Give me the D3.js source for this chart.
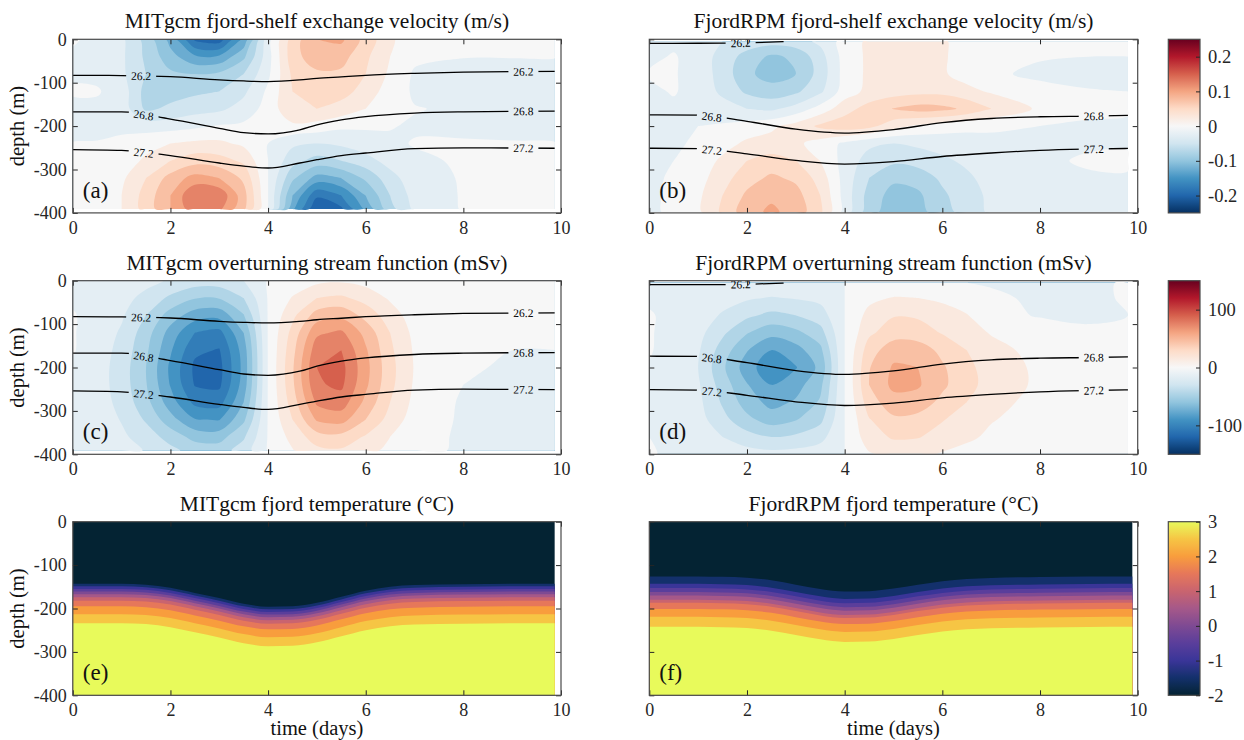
<!DOCTYPE html>
<html>
<head>
<meta charset="utf-8">
<script src="https://cdn.jsdelivr.net/npm/d3@7"></script>
<style>
  body { margin: 0; background: #fff; }
  text { font-family: "Liberation Serif", "DejaVu Serif", serif; }
</style>
</head>
<body>
<svg id="fig" width="1244" height="740"></svg>
<script>
// ---------- data ----------
// grid for the MITgcm fields (days, metres below surface)
const mitTimes = [0, 0.5, 1, 1.5, 2, 2.5, 3, 3.5, 4, 4.5, 5, 5.5, 6, 6.5, 7, 8, 9, 9.87];
const mitDepths = [0, 40, 80, 120, 160, 200, 240, 280, 320, 360, 391];
// grid for the FjordRPM fields
const fjordTimes = [0, 0.5, 1, 1.5, 2, 2.5, 3, 3.5, 4, 4.5, 5, 5.5, 6, 6.5, 7, 8, 9, 9.8];
const fjordDepths = [5, 40, 80, 120, 160, 200, 240, 280, 320, 360, 398];

// (a) MITgcm exchange velocity (m/s), one row per depth
const mitVelocity = [
  [0.002, -0.005, -0.02, -0.06, -0.11, -0.18, -0.19, -0.12, -0.01, 0.06, 0.1, 0.105, 0.065, 0.03, 0.005, 0.002, 0.001, 0.001],
  [-0.003, -0.005, -0.02, -0.055, -0.09, -0.12, -0.12, -0.08, -0.01, 0.065, 0.09, 0.085, 0.055, 0.025, 0.005, 0.001, 0.001, 0.001],
  [-0.003, -0.005, -0.02, -0.05, -0.07, -0.075, -0.07, -0.05, -0.005, 0.055, 0.07, 0.07, 0.05, 0.02, -0.003, -0.01, -0.01, -0.01],
  [0.002, 0.002, -0.01, -0.06, -0.06, -0.055, -0.05, -0.03, 0.005, 0.05, 0.065, 0.06, 0.04, 0.012, -0.003, -0.01, -0.01, -0.01],
  [-0.005, -0.005, -0.01, -0.055, -0.045, -0.035, -0.03, -0.015, 0.01, 0.045, 0.05, 0.04, 0.025, 0.005, 0.001, -0.003, -0.005, -0.005],
  [-0.02, -0.015, -0.005, -0.01, -0.01, -0.005, 0.002, 0.005, 0.01, 0.02, 0.015, 0.005, 0.003, 0.001, -0.002, -0.005, -0.01, -0.02],
  [0.002, 0.003, 0.005, 0.015, 0.025, 0.03, 0.03, 0.02, 0.0, -0.02, -0.025, -0.02, -0.01, -0.003, 0.001, 0.002, 0.002, 0.002],
  [0.002, 0.005, 0.01, 0.03, 0.05, 0.065, 0.06, 0.045, 0.0, -0.04, -0.06, -0.05, -0.035, -0.015, -0.003, 0.002, 0.002, 0.002],
  [0.002, 0.008, 0.02, 0.05, 0.085, 0.11, 0.1, 0.07, 0.0, -0.07, -0.11, -0.1, -0.07, -0.035, -0.01, 0.002, 0.003, 0.003],
  [0.003, 0.01, 0.025, 0.06, 0.1, 0.15, 0.145, 0.085, 0.0, -0.1, -0.17, -0.15, -0.1, -0.05, -0.015, 0.002, 0.003, 0.003],
  [0.003, 0.01, 0.025, 0.06, 0.1, 0.14, 0.13, 0.08, 0.0, -0.12, -0.2, -0.18, -0.12, -0.06, -0.02, 0.002, 0.003, 0.003]
];

// (b) FjordRPM exchange velocity (m/s)
const fjordVelocity = [
  [-0.005, -0.005, -0.01, -0.025, -0.035, -0.04, -0.035, -0.02, 0.01, 0.03, 0.03, 0.03, 0.028, 0.015, 0.005, 0.002, 0.0, 0.0],
  [-0.005, 0.002, -0.01, -0.035, -0.06, -0.08, -0.07, -0.035, 0.01, 0.03, 0.03, 0.03, 0.028, 0.015, 0.005, 0.002, 0.0, 0.0],
  [0.002, 0.002, -0.01, -0.035, -0.07, -0.085, -0.075, -0.04, 0.01, 0.03, 0.03, 0.03, 0.028, 0.015, 0.004, -0.005, -0.005, -0.002],
  [-0.005, 0.002, -0.01, -0.03, -0.055, -0.065, -0.055, -0.03, 0.012, 0.032, 0.038, 0.042, 0.042, 0.032, 0.022, 0.008, 0.001, 0.0],
  [-0.005, -0.005, -0.005, -0.015, -0.025, -0.03, -0.015, 0.01, 0.04, 0.06, 0.076, 0.085, 0.082, 0.07, 0.05, 0.02, 0.005, 0.002],
  [-0.008, -0.005, 0.0, 0.003, 0.01, 0.02, 0.035, 0.055, 0.065, 0.058, 0.035, 0.02, 0.012, 0.006, 0.003, 0.0, -0.003, -0.003],
  [-0.005, -0.002, 0.002, 0.015, 0.03, 0.035, 0.03, 0.015, -0.005, -0.02, -0.025, -0.02, -0.015, -0.01, -0.005, -0.003, -0.002, -0.002],
  [-0.003, 0.0, 0.01, 0.03, 0.05, 0.06, 0.05, 0.025, -0.01, -0.035, -0.045, -0.04, -0.03, -0.02, -0.01, -0.003, 0.002, 0.003],
  [-0.003, 0.002, 0.015, 0.04, 0.065, 0.08, 0.07, 0.04, -0.01, -0.05, -0.07, -0.065, -0.045, -0.03, -0.015, -0.005, -0.002, -0.002],
  [-0.003, 0.003, 0.02, 0.05, 0.08, 0.095, 0.085, 0.05, -0.01, -0.06, -0.085, -0.08, -0.055, -0.035, -0.02, -0.008, -0.003, -0.003],
  [-0.003, 0.003, 0.02, 0.055, 0.09, 0.105, 0.09, 0.055, -0.01, -0.065, -0.09, -0.085, -0.06, -0.04, -0.02, -0.008, -0.003, -0.003]
];

// (c) MITgcm overturning stream function (mSv)
const mitStream = [
  [-2, -3, -5, -10, -17, -22, -22, -15, 1, 6, 11, 13, 10, 5, 2, 1, 1, 1],
  [-2, -4, -9, -20, -33, -44, -44, -30, 1, 16, 30, 33, 24, 13, 5, 1, 1, 1],
  [1, -5, -13, -30, -52, -68, -70, -46, 1, 26, 52, 56, 40, 22, 8, 1, 1, 1],
  [1, -6, -17, -38, -66, -90, -95, -60, 1, 35, 72, 78, 55, 30, 11, 2, 1, 1],
  [1, -7, -20, -42, -73, -102, -106, -68, 1, 40, 84, 90, 62, 33, 13, 2, 0, 0],
  [-2, -8, -22, -45, -78, -108, -110, -70, 1, 43, 90, 95, 65, 35, 14, 1, -1, -1],
  [-3, -8, -22, -44, -76, -106, -108, -68, 1, 42, 88, 93, 63, 34, 13, 0, -2, -2],
  [-3, -7, -20, -40, -68, -94, -96, -60, 1, 37, 78, 83, 56, 30, 11, -2, -3, -3],
  [-3, -6, -16, -32, -54, -74, -76, -48, 1, 30, 62, 66, 45, 24, 8, -2, -3, -3],
  [-2, -5, -12, -22, -36, -50, -51, -32, 1, 20, 38, 40, 28, 15, 5, -2, -3, -3],
  [-2, -4, -9, -16, -26, -36, -37, -23, 1, 14, 26, 28, 20, 11, 4, -2, -3, -3]
];

// (d) FjordRPM overturning stream function (mSv)
const fjordStream = [
  [-2, -2, -3, -4, -4, -4, -4, -3, 0, 2, 3, 3, 2, 0, -1, -2, -2, 1],
  [-2, -3, -5, -8, -13, -16, -14, -11, 0, 11, 16, 15, 12, 6, 2, -2, -2, 1],
  [1, -3, -6, -17, -27, -34, -30, -22, 0, 20, 29, 28, 22, 16, 4, -1, -1, 0],
  [1, -4, -10, -27, -44, -55, -49, -36, 0, 27, 38, 37, 29, 21, 14, 7, 1, 0],
  [1, -5, -13, -37, -59, -75, -66, -49, 0, 38, 54, 53, 41, 30, 20, 10, 2, 0],
  [-1, -6, -15, -42, -68, -86, -76, -56, 0, 44, 62, 60, 47, 34, 23, 12, 3, 1],
  [-2, -5, -13, -37, -59, -75, -66, -49, 0, 45, 64, 62, 48, 35, 24, 12, 3, 1],
  [-2, -5, -11, -32, -52, -65, -58, -43, 0, 38, 54, 53, 41, 30, 20, 10, 2, 0],
  [-2, -4, -9, -25, -41, -52, -46, -34, 0, 29, 42, 40, 31, 23, 16, 8, 2, 0],
  [0, -3, -5, -15, -24, -30, -27, -20, 0, 23, 32, 31, 24, 18, 12, 6, 1, 0],
  [1, -2, -3, -6, -9, -11, -10, -7, 0, 14, 19, 19, 14, 10, 7, 4, 1, 0]
];

// (e)/(f) temperature: isotherm depths at t = 0 and their vertical heave over time
const tempLevels = [-1.5, -1, -0.5, 0, 0.5, 1, 1.5, 2, 2.5, 3];
const mitIsothermDepths = [143, 149, 155, 161, 167, 174, 182, 195, 213, 234];
const fjordIsothermDepths = [126, 143, 153, 162, 170, 180, 187, 201, 219, 242];
const mitTempTimes = [0, 1, 1.5, 2, 2.5, 3, 3.5, 4, 4.5, 5, 5.5, 6, 6.5, 7, 8, 9, 9.87];
const fjordTempTimes = [0, 1, 1.5, 2, 2.5, 3, 3.5, 4, 4.5, 5, 5.5, 6, 6.5, 7, 8, 9, 9.89];
const mitHeave = [0, 0, 2, 9, 21, 33, 46, 53, 52, 44, 30, 16, 7, 3, 1, 0, 0];
const fjordHeave = [0, 0, 1, 3, 9, 19, 29, 35, 34, 28, 19, 11, 6, 3.5, 1.5, 0.5, 0];

// isopycnals (depth in m)
const mitIsoTimes = [0, 1, 2, 3, 3.5, 4, 4.65, 5, 5.5, 6, 7, 8, 9, 9.87];
const mitIso262 = [83, 83.5, 86, 93.5, 96, 97.4, 93.6, 90, 86.5, 83, 78.5, 75.5, 74.5, 74];
const mitIso268 = [167, 167, 184, 205, 215, 218, 208.5, 197, 185.5, 178, 170, 167, 166, 165.5];
const mitIso272 = [254, 256, 268, 285, 292, 296.6, 285, 277.5, 268, 262, 252, 250, 250.5, 251];
const fjordIsoTimes = [0, 1, 2, 3, 4, 5, 6, 7, 8, 9, 9.8];
const fjordIso268 = [174, 174.5, 189, 207, 216, 208, 192, 182.5, 178.5, 177, 175.5];
const fjordIso272 = [251, 252, 264, 279, 287.5, 282, 270, 262, 256, 253, 251.5];
const fjordIso262Times = [0, 1, 1.6, 2.14, 2.75];
const fjordIso262 = [9.2, 9.1, 9, 7.7, 5.5];

// axis ticks and colour limits
const timeTicks = [0, 2, 4, 6, 8, 10];
const depthTicks = [0, -100, -200, -300, -400];
const velTicks = [-0.2, -0.1, 0, 0.1, 0.2];
const psiTicks = [-100, 0, 100];
const tempTicks = [-2, -1, 0, 1, 2, 3];
const velLevels = d3.range(-10, 10).map(i => i * 0.025);
const psiLevels = d3.range(-10, 10).map(i => i * 15);
const thermalColors = ["#042333", "#13306b", "#3a3598", "#5a3e9b", "#7e4a93", "#a55889",
                       "#c9646f", "#e6775a", "#f89d3d", "#f6c544", "#e8fa5b"];

// ---------- layout ----------
const W = 1244, H = 740;
const colX = [[72.8, 561], [649.3, 1137.7]];
const rowY = [39.3, 280.7, 521.7];
const axH = 173.6;
const cbX = 1168.3, cbW = 31.7;
const ink = "#262626";

const svg = d3.select("#fig");
const defs = svg.append("defs");

// diverging map: red at the top of the range, blue at the bottom
const rdbu = d3.scaleLinear().domain(d3.range(11).map(i => i / 10)).range(d3.schemeRdBu[11]);
const velColor = v => rdbu((0.25 - v) / 0.5);
const psiColor = v => rdbu((150 - v) / 300);
const thermal = d3.scaleLinear().domain(d3.range(11).map(i => -2 + i * 0.5)).range(thermalColors);

function makeAxes(col, row, id) {
  const x = d3.scaleLinear().domain([0, 10]).range(colX[col]);
  const y = d3.scaleLinear().domain([-400, 0]).range([rowY[row] + axH, rowY[row]]);
  defs.append("clipPath").attr("id", "clip" + id).append("rect")
    .attr("x", colX[col][0]).attr("y", rowY[row])
    .attr("width", colX[col][1] - colX[col][0]).attr("height", axH);
  const g = svg.append("g");
  const plot = g.append("g").attr("clip-path", `url(#clip${id})`);
  return { x, y, g, plot, col, row, id };
}

// filled contours, coloured with the lower level of each band
function drawField(ax, times, depths, grid, levels, color) {
  const { x, y, plot } = ax;
  const nx = times.length, ny = depths.length;
  const tOf = d3.scaleLinear().domain(times.map((_, i) => i + 0.5)).range(times).clamp(true);
  const zOf = d3.scaleLinear().domain(depths.map((_, j) => j + 0.5)).range(depths).clamp(true);
  const ring = d3.line()
    .x(p => x(tOf(p[0])))
    .y(p => y(-zOf(p[1])))
    .curve(d3.curveCatmullRomClosed.alpha(0.5));
  const bands = d3.contours().size([nx, ny]).thresholds(levels)(grid.flat());
  plot.append("g").selectAll("path").data(bands).join("path")
    .attr("d", c => c.coordinates.map(poly => poly.map(r => ring(r.slice(0, -1))).join("")).join(""))
    .attr("fill", c => color(c.value))
    .attr("fill-rule", "evenodd");
}

function drawTemp(ax, times, heave, restDepths) {
  const { x, y, plot } = ax;
  const tEnd = times[times.length - 1];
  plot.append("rect")
    .attr("x", x(0)).attr("y", y(0))
    .attr("width", x(tEnd) - x(0)).attr("height", y(-400) - y(0))
    .attr("fill", thermal(-2));
  restDepths.forEach((d0, k) => {
    const area = d3.area()
      .x(t => x(t))
      .y0((t, i) => y(-(d0 + heave[i])))
      .y1(y(-400))
      .curve(d3.curveMonotoneX);
    plot.append("path").datum(times).attr("d", area).attr("fill", thermal(tempLevels[k]));
  });
}

function drawIsopycnals(ax, lines) {
  const { x, y, plot, id } = ax;
  const lineGen = d3.line().x(d => x(d[0])).y(d => y(-d[1])).curve(d3.curveMonotoneX);
  const labels = [];
  lines.forEach(L => {
    const zAt = d3.scaleLinear().domain(L.times).range(L.depths).clamp(true);
    L.at.forEach(t => {
      const a = Math.atan2(y(-zAt(t + 0.3)) - y(-zAt(t - 0.3)), x(t + 0.3) - x(t - 0.3)) * 180 / Math.PI;
      labels.push({ px: x(t), py: y(-zAt(t)), a, text: L.label });
    });
  });
  const mask = defs.append("mask").attr("id", "mask" + id)
    .attr("maskUnits", "userSpaceOnUse").attr("x", 0).attr("y", 0).attr("width", W).attr("height", H);
  mask.append("rect").attr("width", W).attr("height", H).attr("fill", "white");
  mask.selectAll("rect.gap").data(labels).join("rect").attr("class", "gap")
    .attr("x", -15).attr("y", -7).attr("width", 30).attr("height", 14).attr("fill", "black")
    .attr("transform", d => `translate(${d.px},${d.py}) rotate(${d.a})`);
  plot.append("g").attr("mask", `url(#mask${id})`)
    .selectAll("path").data(lines).join("path")
    .attr("d", L => lineGen(L.times.map((t, i) => [t, L.depths[i]])))
    .attr("fill", "none").attr("stroke", "#000").attr("stroke-width", 1.3);
  plot.append("g").selectAll("text").data(labels).join("text")
    .attr("transform", d => `translate(${d.px},${d.py}) rotate(${d.a})`)
    .attr("text-anchor", "middle").attr("dy", "0.35em")
    .attr("font-size", 11.5).attr("fill", "#000")
    .text(d => d.text);
}

function finishAxes(ax, title, letter, showY, showX) {
  const { x, y, g } = ax;
  const [x0, x1] = x.range();
  const [yb, yt] = y.range();
  const style = sel => sel.attr("font-family", null).attr("font-size", 18).attr("color", ink)
    .call(s => s.select(".domain").remove());
  g.append("g").attr("transform", `translate(0,${yb})`)
    .call(d3.axisBottom(x).tickValues(timeTicks).tickSize(-5).tickPadding(8).tickFormat(d => String(d)))
    .call(style);
  g.append("g").attr("transform", `translate(0,${yt})`)
    .call(d3.axisTop(x).tickValues(timeTicks).tickSize(-5).tickFormat(""))
    .call(style);
  g.append("g").attr("transform", `translate(${x0},0)`)
    .call(d3.axisLeft(y).tickValues(depthTicks).tickSize(-5).tickPadding(6)
      .tickFormat(d => showY ? String(d) : ""))
    .call(style);
  g.append("g").attr("transform", `translate(${x1},0)`)
    .call(d3.axisRight(y).tickValues(depthTicks).tickSize(-5).tickFormat(""))
    .call(style);
  g.append("rect")
    .attr("x", x0).attr("y", yt).attr("width", x1 - x0).attr("height", yb - yt)
    .attr("fill", "none").attr("stroke", "#4a4a4a").attr("stroke-width", 1.2);
  g.append("text")
    .attr("x", (x0 + x1) / 2).attr("y", yt - 11)
    .attr("text-anchor", "middle").attr("font-size", 21.5).attr("fill", "#111")
    .text(title);
  g.append("text")
    .attr("x", x0 + 10).attr("y", yb - 15)
    .attr("font-size", 23).attr("fill", "#111")
    .text(letter);
  if (showY) {
    g.append("text")
      .attr("transform", `translate(24,${(yt + yb) / 2}) rotate(-90)`)
      .attr("text-anchor", "middle").attr("font-size", 20.5).attr("fill", "#111")
      .text("depth (m)");
  }
  if (showX) {
    g.append("text")
      .attr("x", (x0 + x1) / 2).attr("y", yb + 40)
      .attr("text-anchor", "middle").attr("font-size", 20.5).attr("fill", "#111")
      .text("time (days)");
  }
}

function colorbar(row, color, lo, hi, ticks, id) {
  const y = d3.scaleLinear().domain([lo, hi]).range([rowY[row] + axH, rowY[row]]);
  const grad = defs.append("linearGradient").attr("id", "cb" + id)
    .attr("x1", 0).attr("y1", 0).attr("x2", 0).attr("y2", 1);
  grad.selectAll("stop").data(d3.range(61)).join("stop")
    .attr("offset", i => i / 60)
    .attr("stop-color", i => color(hi - (hi - lo) * i / 60));
  const g = svg.append("g");
  g.append("rect")
    .attr("x", cbX).attr("y", rowY[row]).attr("width", cbW).attr("height", axH)
    .attr("fill", `url(#cb${id})`).attr("stroke", "#4a4a4a").attr("stroke-width", 1.2);
  g.append("g").attr("transform", `translate(${cbX + cbW},0)`)
    .call(d3.axisRight(y).tickValues(ticks).tickSize(-4).tickPadding(8).tickFormat(d => String(d)))
    .attr("font-family", null).attr("font-size", 18.5).attr("color", ink)
    .call(s => s.select(".domain").remove());
}

// ---------- panels ----------
const mitLines = [
  { times: mitIsoTimes, depths: mitIso262, label: "26.2", at: [1.4, 9.23] },
  { times: mitIsoTimes, depths: mitIso268, label: "26.8", at: [1.45, 9.23] },
  { times: mitIsoTimes, depths: mitIso272, label: "27.2", at: [1.45, 9.23] }
];
const fjordLines = [
  { times: fjordIso262Times, depths: fjordIso262, label: "26.2", at: [1.87] },
  { times: fjordIsoTimes, depths: fjordIso268, label: "26.8", at: [1.28, 9.1] },
  { times: fjordIsoTimes, depths: fjordIso272, label: "27.2", at: [1.28, 9.1] }
];

const axA = makeAxes(0, 0, "a");
drawField(axA, mitTimes, mitDepths, mitVelocity, velLevels, velColor);
drawIsopycnals(axA, mitLines);
finishAxes(axA, "MITgcm fjord-shelf exchange velocity (m/s)", "(a)", true, false);

const axB = makeAxes(1, 0, "b");
drawField(axB, fjordTimes, fjordDepths, fjordVelocity, velLevels, velColor);
drawIsopycnals(axB, fjordLines);
finishAxes(axB, "FjordRPM fjord-shelf exchange velocity (m/s)", "(b)", false, false);

const axC = makeAxes(0, 1, "c");
drawField(axC, mitTimes, mitDepths, mitStream, psiLevels, psiColor);
drawIsopycnals(axC, mitLines);
finishAxes(axC, "MITgcm overturning stream function (mSv)", "(c)", true, false);

const axD = makeAxes(1, 1, "d");
drawField(axD, fjordTimes, fjordDepths, fjordStream, psiLevels, psiColor);
drawIsopycnals(axD, fjordLines);
finishAxes(axD, "FjordRPM overturning stream function (mSv)", "(d)", false, false);

const axE = makeAxes(0, 2, "e");
drawTemp(axE, mitTempTimes, mitHeave, mitIsothermDepths);
finishAxes(axE, "MITgcm fjord temperature (\u00B0C)", "(e)", true, true);

const axF = makeAxes(1, 2, "f");
drawTemp(axF, fjordTempTimes, fjordHeave, fjordIsothermDepths);
finishAxes(axF, "FjordRPM fjord temperature (\u00B0C)", "(f)", false, true);

colorbar(0, velColor, -0.25, 0.25, velTicks, "v");
colorbar(1, psiColor, -150, 150, psiTicks, "p");
colorbar(2, v => thermal(v), -2, 3, tempTicks, "t");
</script>
</body>
</html>
